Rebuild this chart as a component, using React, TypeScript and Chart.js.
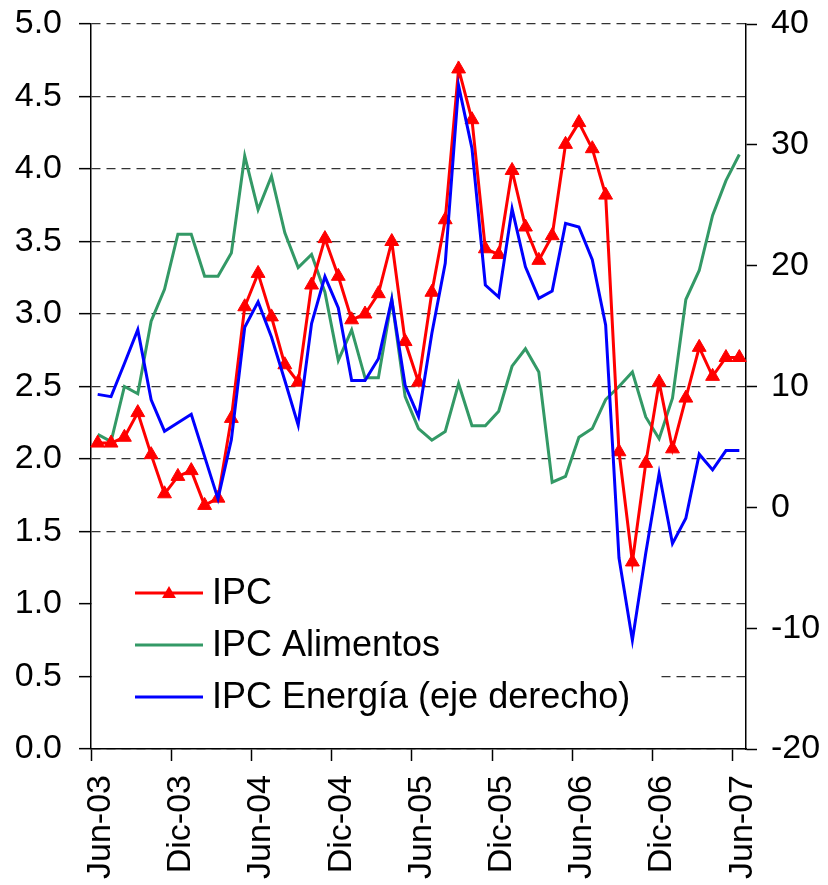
import React, { useEffect, useRef } from "react";
import { Chart, registerables } from "chart.js";

Chart.register(...registerables);

const months = [
  "Jun-03", "Jul-03", "Ago-03", "Sep-03", "Oct-03", "Nov-03", "Dic-03",
  "Ene-04", "Feb-04", "Mar-04", "Abr-04", "May-04", "Jun-04", "Jul-04",
  "Ago-04", "Sep-04", "Oct-04", "Nov-04", "Dic-04", "Ene-05", "Feb-05",
  "Mar-05", "Abr-05", "May-05", "Jun-05", "Jul-05", "Ago-05", "Sep-05",
  "Oct-05", "Nov-05", "Dic-05", "Ene-06", "Feb-06", "Mar-06", "Abr-06",
  "May-06", "Jun-06", "Jul-06", "Ago-06", "Sep-06", "Oct-06", "Nov-06",
  "Dic-06", "Ene-07", "Feb-07", "Mar-07", "Abr-07", "May-07", "Jun-07",
];

const ipc = [
  2.11, 2.11, 2.15, 2.32, 2.03, 1.76, 1.88, 1.92, 1.68, 1.73,
  2.28, 3.05, 3.28, 2.98, 2.65, 2.53, 3.2, 3.52, 3.26, 2.96,
  3.0, 3.14, 3.5, 2.81, 2.53, 3.15, 3.65, 4.69, 4.34, 3.45,
  3.41, 3.99, 3.6, 3.37, 3.54, 4.17, 4.32, 4.14, 3.82, 2.05,
  1.29, 1.97, 2.53, 2.07, 2.42, 2.77, 2.57, 2.7, 2.7,
];

const ipcAlimentos = [
  2.17, 2.12, 2.5, 2.45, 2.95, 3.17, 3.55, 3.55, 3.26, 3.26,
  3.42, 4.09, 3.72, 3.95, 3.56, 3.32, 3.41, 3.15, 2.68, 2.89,
  2.56, 2.56, 3.1, 2.43, 2.21, 2.13, 2.19, 2.52, 2.23, 2.23,
  2.33, 2.64, 2.76, 2.6, 1.84, 1.88, 2.15, 2.21, 2.41, 2.5,
  2.6, 2.29, 2.14, 2.42, 3.1, 3.3, 3.68, 3.92, 4.1,
];

const ipcEnergia = [
  9.35, 9.16, 11.9, 14.7, 8.9, 6.3, 7.0, 7.7, 4.2, 0.7,
  5.6, 14.9, 17.0, 14.1, 10.5, 6.8, 15.2, 19.1, 16.5, 10.5,
  10.5, 12.3, 17.2, 10.1, 7.5, 14.4, 20.2, 34.9, 29.7, 18.4,
  17.4, 24.7, 19.9, 17.3, 17.9, 23.5, 23.2, 20.5, 15.1, -4.2,
  -11.0, -3.8, 2.8, -3.0, -0.9, 4.4, 3.1, 4.7, 4.7,
];

const seriesNames = ["IPC", "IPC Alimentos", "IPC Energía (eje derecho)"];
const seriesColors = ["#ff0000", "#339966", "#0000ff"];

const leftAxis = { min: 0, max: 5, step: 0.5 };
const rightAxis = { min: -20, max: 40, step: 10 };
const labelEvery = 6;

const FONT = '"Liberation Sans", Arial, Helvetica, sans-serif';

function drawTriangle(ctx: CanvasRenderingContext2D, x: number, y: number, r: number) {
  ctx.beginPath();
  ctx.moveTo(x, y - r);
  ctx.lineTo(x + r * 0.866, y + r * 0.5);
  ctx.lineTo(x - r * 0.866, y + r * 0.5);
  ctx.closePath();
  ctx.fill();
}

export default function App() {
  const ref = useRef<HTMLCanvasElement>(null);

  useEffect(() => {
    const canvas = ref.current;
    if (!canvas) return;

    const legendPlugin = {
      id: "boxLegend",
      beforeDatasetsDraw(chart: any) {
        const ctx: CanvasRenderingContext2D = chart.ctx;
        const { left } = chart.chartArea;
        ctx.save();
        ctx.fillStyle = "#ffffff";
        ctx.fillRect(left + 1, 542, 656 - left - 1, 184);
        const rowY = [593, 645, 697];
        ctx.font = `36px ${FONT}`;
        ctx.textBaseline = "middle";
        ctx.textAlign = "left";
        seriesNames.forEach((name, i) => {
          const y = rowY[i];
          ctx.strokeStyle = seriesColors[i];
          ctx.lineWidth = 3;
          ctx.beginPath();
          ctx.moveTo(135, y);
          ctx.lineTo(203, y);
          ctx.stroke();
          if (i === 0) {
            ctx.fillStyle = seriesColors[0];
            drawTriangle(ctx, 169, y + 1, 8);
          }
          ctx.fillStyle = "#000000";
          ctx.fillText(name, 212, y + 1);
        });
        ctx.restore();
      },
    };

    const chart = new Chart(canvas, {
      type: "line",
      data: {
        labels: months,
        datasets: [
          {
            label: seriesNames[2],
            data: ipcEnergia,
            yAxisID: "y2",
            borderColor: seriesColors[2],
            borderWidth: 3,
            pointRadius: 0,
            tension: 0,
          },
          {
            label: seriesNames[0],
            data: ipc,
            yAxisID: "y",
            borderColor: seriesColors[0],
            backgroundColor: seriesColors[0],
            borderWidth: 3,
            pointStyle: "triangle",
            pointRadius: 8,
            pointBorderWidth: 1,
            pointBorderColor: seriesColors[0],
            pointBackgroundColor: seriesColors[0],
            tension: 0,
          },
          {
            label: seriesNames[1],
            data: ipcAlimentos,
            yAxisID: "y",
            borderColor: seriesColors[1],
            borderWidth: 3,
            pointRadius: 0,
            tension: 0,
          },
        ],
      },
      options: {
        responsive: false,
        animation: false,
        events: [],
        layout: { padding: { top: 24, left: 0, right: 0, bottom: 0 } },
        plugins: {
          legend: { display: false },
          tooltip: { enabled: false },
          title: { display: false },
        },
        scales: {
          x: {
            type: "category",
            offset: true,
            afterFit(scale: any) {
              scale.height = 136;
            },
            grid: {
              display: true,
              offset: true,
              drawOnChartArea: false,
              drawTicks: true,
              tickLength: 12,
              tickWidth: 1.5,
              tickColor: (ctx: any) => (ctx.index % labelEvery === 0 && ctx.index < months.length ? "#000000" : "rgba(0,0,0,0)"),
              color: "rgba(0,0,0,0)",
            },
            border: { display: true, color: "#000000", width: 1.5 },
            ticks: {
              autoSkip: false,
              maxRotation: 90,
              minRotation: 90,
              padding: 14,
              labelOffset: 3,
              color: "#000000",
              font: { family: FONT, size: 34 },
              callback: (_v: any, index: number) => (index % labelEvery === 0 ? months[index] : ""),
            },
          },
          y: {
            type: "linear",
            position: "left",
            min: leftAxis.min,
            max: leftAxis.max,
            afterFit(scale: any) {
              scale.width = 91;
              scale.paddingTop = 0;
              scale.paddingBottom = 0;
            },
            grid: {
              display: true,
              drawOnChartArea: true,
              drawTicks: true,
              tickLength: 12,
              tickWidth: 1.5,
              tickColor: "#000000",
              color: "#333333",
              lineWidth: 1.3,
            },
            border: { display: true, color: "#000000", width: 1.5, dash: [9, 6] },
            ticks: {
              stepSize: leftAxis.step,
              padding: 17,
              color: "#000000",
              font: { family: FONT, size: 34 },
              callback: (v: any) => Number(v).toFixed(1),
            },
          },
          y2: {
            type: "linear",
            position: "right",
            min: rightAxis.min,
            max: rightAxis.max,
            afterFit(scale: any) {
              scale.width = 82;
              scale.paddingTop = 0;
              scale.paddingBottom = 0;
            },
            grid: {
              display: true,
              drawOnChartArea: false,
              drawTicks: true,
              tickLength: 11,
              tickWidth: 1.5,
              tickColor: "#000000",
            },
            border: { display: true, color: "#000000", width: 1.5 },
            ticks: {
              stepSize: rightAxis.step,
              padding: 14,
              color: "#000000",
              font: { family: FONT, size: 34 },
            },
          },
        },
      },
      plugins: [legendPlugin],
    });

    return () => chart.destroy();
  }, []);

  return (
    <div style={{ position: "absolute", left: 0, top: 0, width: 828, height: 885, background: "#ffffff" }}>
      <canvas ref={ref} width={828} height={885} style={{ display: "block" }} />
    </div>
  );
}
